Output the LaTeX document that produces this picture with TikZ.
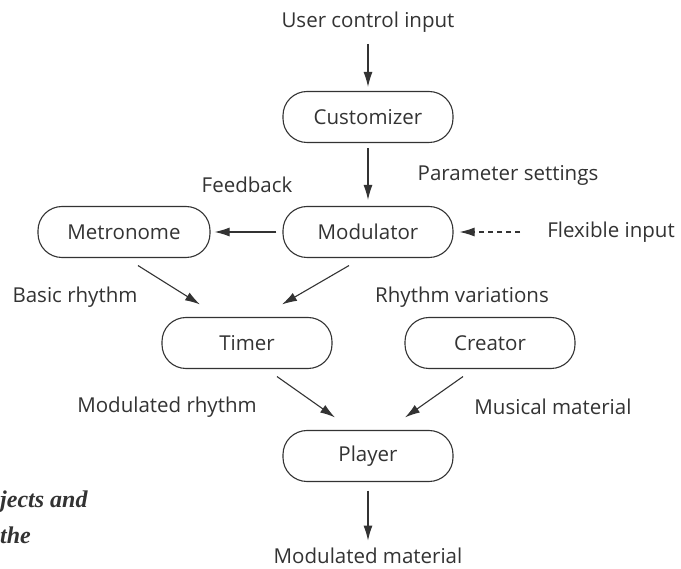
\documentclass[tikz,border=0pt]{standalone}
\usepackage{fontspec}
\setmainfont{Open Sans}
\newfontfamily\capfont{Liberation Serif}
\usetikzlibrary{arrows.meta}
\definecolor{ink}{HTML}{333333}
\begin{document}
\begin{tikzpicture}[x=1pt,y=-1pt,
  box/.style={draw=ink, line width=1.1pt, rounded corners=24pt, minimum width=170pt, minimum height=51pt, font=\fontsize{20.5}{24}\selectfont, text=ink},
  lbl/.style={font=\fontsize{20.5}{24}\selectfont, text=ink},
  captxt/.style={font=\fontsize{24}{28}\selectfont\capfont\bfseries\itshape, text=ink, anchor=west, inner sep=0pt},
  arr/.style={draw=ink, line width=1.1pt, -{Latex[length=15pt,width=9pt]}}]
\useasboundingbox (0,0) rectangle (681,569);
\fill[white] (0,0) rectangle (681,569);
% nodes
\node[box] (cust) at (368,117) {Customizer};
\node[box, minimum width=172pt] (metro) at (124,232) {Metronome};
\node[box] (mod) at (368,232) {Modulator};
\node[box] (timer) at (247,343) {Timer};
\node[box] (creator) at (490,343) {Creator};
\node[box] (player) at (368,456) {Player};
% labels
\node[lbl] (uci) at (368,22) {User control input};
\node[lbl] (out) at (368,556) {Modulated material};
\node[lbl] (flex) at (611,232) {Flexible input};
\node[lbl] (ps) at (508,175) {Parameter settings};
\node[lbl] (fb) at (247,185) {Feedback};
\node[lbl] (br) at (75,297) {Basic rhythm};
\node[lbl] (rv) at (462,297) {Rhythm variations};
\node[lbl] (mr) at (167,407) {Modulated rhythm};
\node[lbl] (mm) at (553,407) {Musical material};
\node[captxt] (c1) at (0,502) {jects and};
\node[captxt] (c2) at (0,535) {the};
\coordinate (fx) at (520,232);
% connectors
\draw[arr, shorten <=8pt, shorten >=4pt] (uci) -- (cust);
\draw[arr, shorten <=5pt, shorten >=6pt] (cust) -- (mod);
\draw[arr, shorten <=6pt, shorten >=4pt] (mod) -- (metro);
\draw[arr, dashed, dash pattern=on 5pt off 4pt, shorten >=6pt] (fx) -- (mod.east);
\draw[arr] ([xshift=14pt,yshift=-7.5pt]metro.south) -- ([xshift=-47pt,yshift=12.5pt]timer.north);
\draw[arr] ([xshift=-19pt,yshift=-7.5pt]mod.south) -- ([xshift=35pt,yshift=12.5pt]timer.north);
\draw[arr] ([xshift=30pt,yshift=-7.5pt]timer.south) -- ([xshift=-33pt,yshift=12.5pt]player.north);
\draw[arr] ([xshift=-27pt,yshift=-7.5pt]creator.south) -- ([xshift=37pt,yshift=12.5pt]player.north);
\draw[arr, shorten <=8.5pt, shorten >=4pt] (player) -- (out);
\end{tikzpicture}
\end{document}
